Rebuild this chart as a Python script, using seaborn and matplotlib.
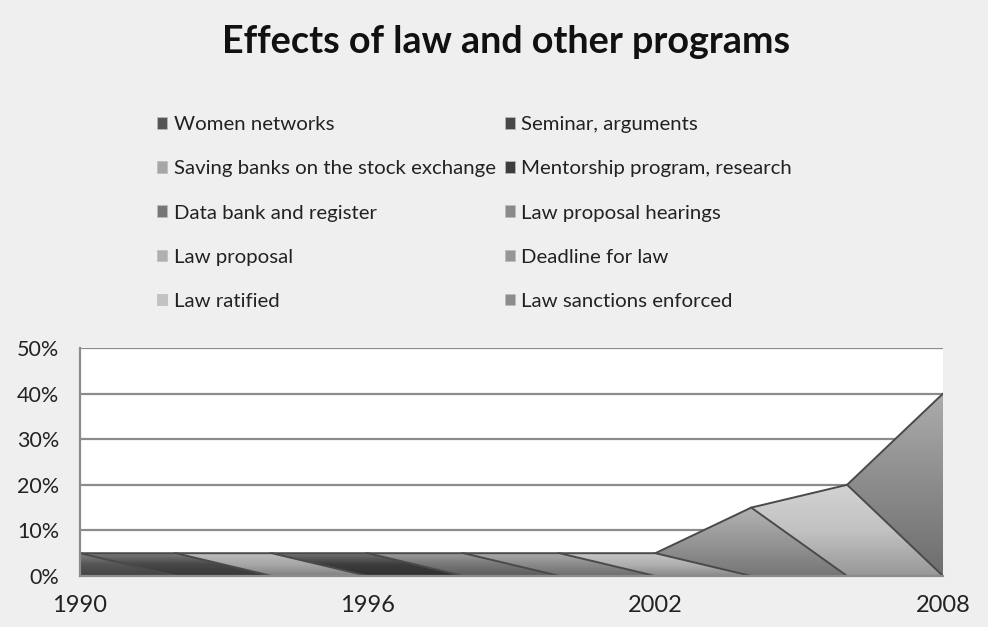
import matplotlib
matplotlib.use("Agg")
import matplotlib.pyplot as plt
import seaborn as sns
import numpy as np
import pandas as pd
from matplotlib.patches import Patch

# ---- data ----
years = [1990, 1992, 1994, 1996, 1998, 2000, 2002, 2004, 2006, 2008]
tick_years = ["1990", "1996", "2002", "2008"]
series_names = [
    "Women networks", "Seminar, arguments",
    "Saving banks on the stock exchange", "Mentorship program, research",
    "Data bank and register", "Law proposal hearings",
    "Law proposal", "Deadline for law",
    "Law ratified", "Law sanctions enforced",
]
women_networks = [5, 0, 0, 0, 0, 0, 0, 0, 0, 0]
seminar = [5, 5, 0, 0, 0, 0, 0, 0, 0, 0]
saving_banks = [0, 5, 5, 0, 0, 0, 0, 0, 0, 0]
mentorship = [0, 0, 5, 5, 0, 0, 0, 0, 0, 0]
data_bank = [0, 0, 0, 5, 5, 0, 0, 0, 0, 0]
hearings = [0, 0, 0, 0, 5, 5, 0, 0, 0, 0]
law_proposal = [0, 0, 0, 0, 0, 5, 5, 0, 0, 0]
deadline = [0, 0, 0, 0, 0, 0, 5, 15, 0, 0]
ratified = [0, 0, 0, 0, 0, 0, 0, 15, 20, 0]
sanctions = [0, 0, 0, 0, 0, 0, 0, 0, 20, 40]
values = [women_networks, seminar, saving_banks, mentorship, data_bank,
          hearings, law_proposal, deadline, ratified, sanctions]

colors = ["#555555", "#474747", "#a6a6a6", "#3c3c3c", "#767676",
          "#8a8a8a", "#b0b0b0", "#969696", "#c2c2c2", "#8c8c8c"]

rows = []
for name, vals in zip(series_names, values):
    for i, (y, v) in enumerate(zip(years, vals)):
        rows.append({"series": name, "idx": i, "year": y, "value": v})
df = pd.DataFrame(rows)

sns.set_style("white")
plt.rcParams['font.family'] = ['Lato', 'DejaVu Sans']

fig = plt.figure(figsize=(9.88, 6.27), dpi=100, facecolor="#efefef")
ax = fig.add_axes([80/988, 1-576/627, 863/988, 228/627])
ax.set_facecolor("white")

# bevel-like shading overlay
grad = np.zeros((64, 2, 4))
tt = np.linspace(0, 1, 64)[:, None]
grad[..., :3] = np.where(tt < 0.5, 1.0, 0.0)[..., None]
grad[..., 3] = np.where(tt < 0.5, 0.28 * (1 - tt / 0.5), 0.22 * (tt - 0.5) / 0.5)[:, :1].repeat(2, 1)

n = len(series_names)
for k, name in enumerate(series_names):
    sub = df[df["series"] == name]
    z = 10 + (n - k) * 3
    poly = ax.fill_between(sub["idx"], 0, sub["value"], color=colors[k],
                           edgecolor="none", zorder=z)
    nz = sub[sub["value"] > 0]
    x0 = max(nz["idx"].min() - 1, 0)
    x1 = min(nz["idx"].max() + 1, len(years) - 1)
    im = ax.imshow(grad, extent=[x0, x1, 0, sub["value"].max()],
                   aspect="auto", origin="upper", zorder=z + 1,
                   interpolation="bilinear")
    im.set_clip_path(poly.get_paths()[0], transform=ax.transData)
    sns.lineplot(data=sub, x="idx", y="value", ax=ax, color="#4a4a4a",
                 lw=1.4, zorder=z + 2, legend=False)

ax.set_xlim(0, len(years) - 1)
ax.set_ylim(0, 50)
ax.set_xticks([0, 3, 6, 9])
ax.set_xticklabels(tick_years)
ax.set_yticks(range(0, 51, 10))
ax.set_yticklabels([f"{v}%" for v in range(0, 51, 10)])
ax.set_xlabel("")
ax.set_ylabel("")
ax.tick_params(axis="both", length=0, colors="#222222")
ax.tick_params(axis="x", pad=14, labelsize=17)
ax.tick_params(axis="y", pad=15, labelsize=15.5)
for v in range(10, 51, 10):
    ax.axhline(v, color="#8c8c8c", lw=1.6, zorder=1)
for s in ["top", "right"]:
    ax.spines[s].set_visible(False)
for s in ["left", "bottom"]:
    ax.spines[s].set_color("#8c8c8c")
    ax.spines[s].set_linewidth(1.6)
    ax.spines[s].set_zorder(60)

fig.text(506/988, 1 - 42/627, "Effects of law and other programs",
         ha="center", va="center", fontsize=27.2, fontweight="bold",
         color="#111111")

# legend: row-major order like the reference (matplotlib fills columns first)
order = list(range(0, n, 2)) + list(range(1, n, 2))
handles = [Patch(facecolor=colors[i], edgecolor="#bbbbbb", lw=0.5) for i in order]
labels = [series_names[i] for i in order]
leg = fig.legend(handles, labels, ncol=2, loc="upper left",
                 bbox_to_anchor=(147/988, 1 - 106/627), frameon=False,
                 fontsize=14.7, handlelength=0.5, handleheight=0.5,
                 handletextpad=0.3, columnspacing=0.45, labelspacing=1.33,
                 borderpad=0)
for t in leg.get_texts():
    t.set_color("#222222")

fig.savefig("out.png", dpi=100, facecolor=fig.get_facecolor())
